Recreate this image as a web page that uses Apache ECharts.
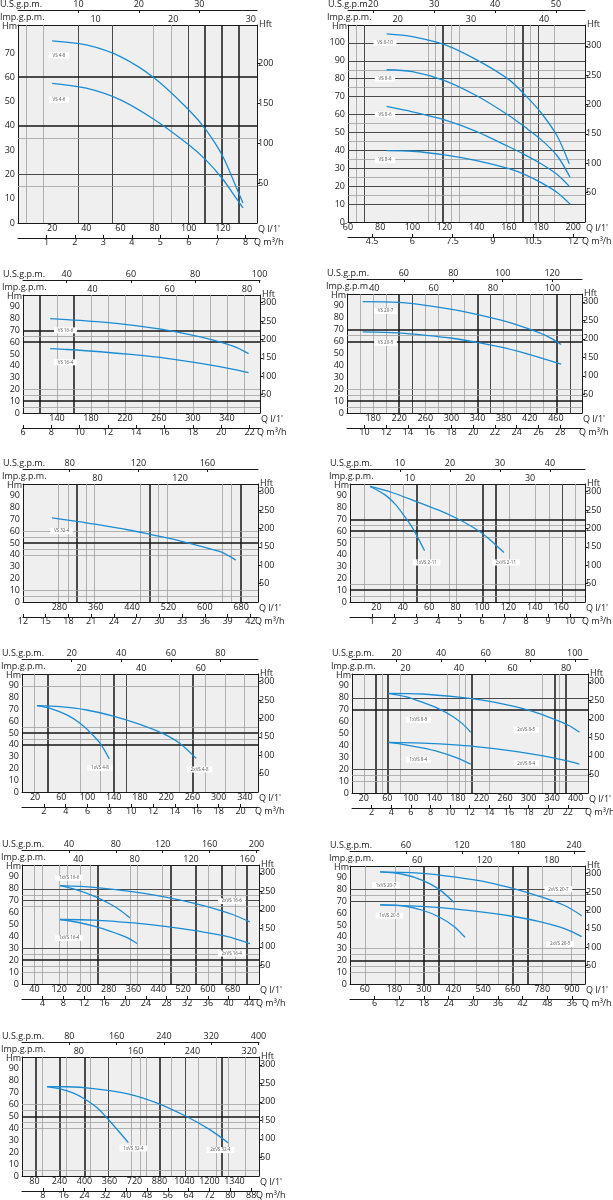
<!DOCTYPE html>
<html>
<head>
<meta charset="utf-8">
<script src="https://cdn.jsdelivr.net/npm/echarts@6/dist/echarts.min.js"></script>
<style>
  html, body { margin: 0; padding: 0; background: #fff; }
  #chart { width: 613px; height: 1200px; }
</style>
</head>
<body>
<div id="chart"></div>
<script>
// ---- shared tick labels ----
const hmTicks90 = [0, 10, 20, 30, 40, 50, 60, 70, 80, 90];
const hftTicks = [50, 100, 150, 200, 250, 300];

// ---- panel 1 : VS 4 ----
const p1QTicks = [20, 40, 60, 80, 100, 120];
const p1M3Ticks = [1, 2, 3, 4, 5, 6, 7, 8];
const p1UsTicks = [10, 20, 30];
const p1ImpTicks = [10, 20, 30];
const p1HmTicks = [0, 10, 20, 30, 40, 50, 60, 70];
const p1HftTicks = [50, 100, 150, 200];
const p1VS48 = [[20, 75], [40, 73.3], [60, 68.5], [80, 59.6], [100, 46.6], [110, 38.4], [120, 27.4], [128, 14.4], [131.8, 8.2]];
const p1VS46 = [[20, 57.5], [40, 55.5], [60, 50.7], [80, 42.5], [100, 32.2], [110, 26], [120, 18], [128, 10], [131.8, 6.2]];
const p1VThin = [5, 15, 79.5, 89.6];
const p1VMid = [35, 55, 99.6];
const p1VThick = [109.2, 119.5, 129.3];
const p1HThin = [15, 35];
const p1HMid = [20];
const p1HThick = [40, 60];
const p1Notes = [['VS 4-8', 24, 69], ['VS 4-6', 24, 50.7]];

// ---- panel 2 : VS 8 ----
const p2QTicks = [60, 80, 100, 120, 140, 160, 180, 200];
const p2M3Ticks = [4.5, 6, 7.5, 9, 10.5, 12];
const p2UsTicks = [20, 30, 40, 50];
const p2ImpTicks = [20, 30, 40];
const p2HmTicks = [0, 10, 20, 30, 40, 50, 60, 70, 80, 90, 100];
const p2VS810 = [[84, 105], [100, 103.5], [120, 99], [140, 90.5], [160, 79.5], [170, 71], [180, 61], [190, 48], [197.5, 32.5]];
const p2VS88 = [[84, 85], [100, 84], [120, 79], [140, 70.5], [160, 59.5], [170, 53], [180, 46], [190, 37], [198, 25]];
const p2VS86 = [[84, 64.5], [100, 61.5], [120, 57], [140, 50.5], [160, 42], [170, 37.5], [180, 32.5], [190, 26.5], [198, 19.5]];
const p2VS84 = [[84, 39.8], [100, 39.5], [120, 37.5], [140, 34.3], [160, 29.8], [170, 26.5], [180, 22], [190, 16.5], [198, 10]];
const p2VThin = [65, 110, 114, 124, 129, 158.5, 163.5, 173.5, 188];
const p2VMid = [70, 178.5];
const p2VThick = [119, 168.3];
const p2HThin = [15, 25, 35, 45, 55, 75, 85];
const p2HMid = [10, 20, 30, 40, 50, 60, 70, 80, 90, 100];
const p2HThick = [];
const p2Notes = [['VS 8-10', 83, 100], ['VS 8-8', 83, 80], ['VS 8-6', 83, 60], ['VS 8-4', 83, 34.5]];

// ---- panel 3 : VS 16 ----
const p3QTicks = [140, 180, 220, 260, 300, 340];
const p3M3Ticks = [6, 8, 10, 12, 14, 16, 18, 20, 22];
const p3UsTicks = [40, 60, 80, 100];
const p3ImpTicks = [40, 60, 80];
const p3VS166 = [[132, 80], [191, 77.2], [230, 74.3], [269, 70.3], [309, 64.5], [348, 56.5], [365.5, 50.3]];
const p3VS164 = [[132, 54.5], [152, 53.8], [191, 51.9], [230, 49.4], [269, 46.3], [309, 42], [348, 37], [365.5, 34.2]];
const p3VThin = [140, 180, 200, 220, 240, 260, 280, 300, 320, 340, 360];
const p3VMid = [];
const p3VThick = [120, 160];
const p3HThin = [5, 15, 20, 65];
const p3HMid = [];
const p3HThick = [10, 60, 70];
const p3Notes = [['VS 16-6', 150, 70], ['VS 16-4', 150, 43]];

// ---- panel 4 : VS 20 ----
const p4QTicks = [180, 220, 260, 300, 340, 380, 420, 460];
const p4M3Ticks = [10, 12, 14, 16, 18, 20, 22, 24, 26, 28];
const p4UsTicks = [60, 80, 100, 120];
const p4ImpTicks = [40, 60, 80, 100];
const p4VS207 = [[164, 93.6], [219, 93], [250, 91.3], [301, 87], [342, 82.5], [383, 77], [414, 71.5], [445, 65], [468, 57.5]];
const p4VS205 = [[164, 68.2], [219, 67.4], [250, 65.8], [301, 62.8], [341, 59.2], [383, 54.5], [424, 48.5], [468, 41.1]];
const p4VThin = [160, 180, 200, 260, 280, 300, 320, 380, 400, 420, 440];
const p4VMid = [240, 360, 482];
const p4VThick = [220, 340, 461];
const p4HThin = [5, 15, 20, 65];
const p4HMid = [];
const p4HThick = [10, 60, 70];
const p4Notes = [['VS 20-7', 199, 85.7], ['VS 20-5', 199, 59]];

// ---- panel 5 : VS 32 ----
const p5QTicks = [280, 360, 440, 520, 600, 680];
const p5M3Ticks = [12, 15, 18, 21, 24, 27, 30, 33, 36, 39, 42];
const p5UsTicks = [80, 120, 160];
const p5ImpTicks = [80, 120];
const p5VS324 = [[263.6, 71.3], [318.5, 68.3], [362, 65.7], [435.5, 60.8], [479, 57.4], [517, 54.3], [545, 51.8], [598, 46.5], [637, 42.2], [668, 35.5]];
const p5VThin = [278, 298.5, 339, 357, 457, 497.5, 517.5, 638, 658.5];
const p5VMid = [];
const p5VThick = [318.5, 478, 678];
const p5HThin = [5, 10, 40, 45, 55, 60];
const p5HMid = [];
const p5HThick = [50];
const p5Notes = [['VS 32-4', 285, 60]];

// ---- panel 6 : 1x / 2x VS 2-11 ----
const p6QTicks = [20, 40, 60, 80, 100, 120, 140, 160];
const p6M3Ticks = [1, 2, 3, 4, 5, 6, 7, 8, 9, 10];
const p6UsTicks = [10, 20, 30, 40];
const p6ImpTicks = [10, 20, 30];
const p6VS211x1 = [[15.2, 97.9], [26.6, 90.8], [34.2, 82.9], [40.5, 73.9], [46.4, 64.5], [50.7, 56], [56.5, 43.4]];
const p6VS211x2 = [[15.2, 97.9], [31.7, 92.8], [49.4, 85.5], [67.2, 77.8], [80.3, 71.2], [92.5, 63.8], [100.6, 57.8], [107.7, 51], [116.6, 41.9]];
const p6VThin = [11, 30.5, 40.5, 61, 75, 80.5, 121, 140.5, 151, 170.5];
const p6VMid = [161];
const p6VThick = [50.7, 100.6, 110.2];
const p6HThin = [5, 15, 55, 65];
const p6HMid = [];
const p6HThick = [10, 60, 70];
const p6Notes = [['1xVS 2-11', 58, 33.5], ['2xVS 2-11', 118, 33.5]];

// ---- panel 7 : 1x / 2x VS 4-8 ----
const p7QTicks = [20, 60, 100, 140, 180, 220, 260, 300, 340];
const p7M3Ticks = [2, 4, 6, 8, 10, 12, 14, 16, 18, 20];
const p7UsTicks = [20, 40, 60, 80];
const p7ImpTicks = [20, 40, 60];
const p7VS48x1 = [[22.8, 73.2], [43, 70.9], [68.4, 65.3], [88.6, 58.3], [103.8, 50.7], [119, 41.4], [133.2, 28]];
const p7VS48x2 = [[22.8, 73.2], [58.2, 72.3], [98.7, 69.5], [139.2, 64.3], [179.7, 57.3], [215.2, 49.5], [240.5, 41.4], [265.8, 28.5]];
const p7VThin = [19, 88.5, 119, 239.5, 279.5, 310, 339];
const p7VMid = [158.5];
const p7VThick = [39.5, 139.5, 260];
const p7HThin = [45, 55, 90];
const p7HMid = [];
const p7HThick = [40, 50];
const p7Notes = [['1xVS 4-8', 119, 20.4], ['2xVS 4-8', 271, 19]];

// ---- panel 8 : 1x / 2x VS 8-5, VS 8-4 ----
const p8QTicks = [20, 60, 100, 140, 180, 220, 260, 300, 340, 380];
const p8M3Ticks = [2, 4, 6, 8, 10, 12, 14, 16, 18, 20, 22];
const p8UsTicks = [20, 40, 60, 80, 100];
const p8ImpTicks = [20, 40, 60, 80];
const p8VS85x1 = [[61.4, 83.8], [90.9, 81], [119.3, 76.3], [147.7, 70.7], [170.5, 64.5], [187.5, 58.3], [201.7, 51.1]];
const p8VS85x2 = [[61.4, 83.8], [119.3, 83.2], [181.8, 80.5], [221.6, 78], [261.4, 74.2], [306.8, 68.6], [342, 62.3], [369.3, 56.5], [386.4, 51.1]];
const p8VS84x1 = [[61.4, 42.5], [90.9, 40.5], [119.3, 37.9], [147.7, 34.6], [176, 30], [201.7, 24.3]];
const p8VS84x2 = [[61.4, 42.5], [119.3, 41.9], [181.8, 40.2], [221.6, 38.4], [261.4, 36], [306.8, 32.6], [342, 29.5], [369.3, 26.6], [386.4, 24.3]];
const p8VThin = [21.5, 52, 82.5, 162, 182, 193, 234, 324, 352];
const p8VMid = [];
const p8VThick = [41, 61.4, 203, 344, 363.6];
const p8HThin = [10, 15];
const p8HMid = [20, 80];
const p8HThick = [70];
const p8Notes = [['1xVS 8-5', 113, 61.5], ['2xVS 8-5', 296, 53], ['1xVS 8-4', 113, 28], ['2xVS 8-4', 296, 25]];

// ---- panel 9 : 1x / 2x VS 16-6, VS 16-4 ----
const p9QTicks = [40, 120, 200, 280, 360, 440, 520, 600, 680];
const p9M3Ticks = [4, 8, 12, 16, 20, 24, 28, 32, 36, 40, 44];
const p9UsTicks = [40, 80, 120, 160, 200];
const p9ImpTicks = [40, 80, 120, 160];
const p9VS166x1 = [[123, 82.6], [178.8, 78.9], [232.3, 73.9], [285.9, 67], [318, 61.8], [348, 55.6]];
const p9VS166x2 = [[123, 82.6], [232.3, 81.2], [360.8, 77.5], [467.9, 72.8], [553.5, 68], [628.5, 62.8], [682, 58.2], [735.5, 52.2]];
const p9VS164x1 = [[123, 54.2], [178.8, 51.9], [232.3, 48.6], [285.9, 44.3], [339.4, 39], [371.5, 34]];
const p9VS164x2 = [[123, 54.2], [232.3, 53.7], [360.8, 51.3], [467.9, 48.3], [575, 44.2], [661, 40], [735.5, 34]];
const p9VThin = [39.6, 64, 120, 144.5, 189.5, 219.5, 350, 371.5, 451.8, 601.7, 687];
const p9VMid = [];
const p9VThick = [243, 480.7, 561, 644.5, 727];
const p9HThin = [10, 15, 25, 65, 75];
const p9HMid = [30, 70, 80];
const p9HThick = [20];
const p9Notes = [['1xVS 16-6', 152, 89.3], ['2xVS 16-6', 677, 69.7], ['1xVS 16-4', 152, 38.8], ['2xVS 16-4', 677, 25.6]];

// ---- panel 10 : 1x / 2x VS 20-7, VS 20-5 ----
const p10QTicks = [60, 180, 300, 420, 540, 660, 780, 900];
const p10M3Ticks = [6, 12, 18, 24, 30, 36, 42, 48, 54];
const p10UsTicks = [60, 120, 180, 240];
const p10ImpTicks = [60, 120, 180];
const p10VS207x1 = [[122.3, 95], [213.7, 93], [294.4, 87.8], [361.6, 80.2], [422, 69.1]];
const p10VS207x2 = [[122.3, 95], [294.4, 93.8], [428.8, 90.5], [563, 86], [664, 80.8], [764.8, 74.5], [872.3, 66.3], [939.5, 57.9]];
const p10VS205x1 = [[122.3, 67.1], [213.7, 66.3], [294.4, 62.5], [361.6, 56.8], [422, 48.8], [466.4, 39.6]];
const p10VS205x2 = [[122.3, 67.1], [294.4, 65.7], [428.8, 63.4], [563, 60.3], [664, 57.2], [764.8, 53], [872.3, 46.8], [939.5, 40.2]];
const p10VThin = [63, 184, 240.5, 422, 512, 601, 781, 899];
const p10VMid = [];
const p10VThick = [301, 361.6, 660, 722];
const p10HThin = [10, 15, 25, 30, 75];
const p10HMid = [70, 80];
const p10HThick = [20];
const p10Notes = [['1xVS 20-7', 146, 83.7], ['2xVS 20-7', 845, 80.3], ['1xVS 20-5', 160, 57.9], ['2xVS 20-5', 852, 34]];

// ---- panel 11 : 1x / 2x VS 32-4 ----
const p11QTicks = [80, 240, 400, 560, 720, 880, 1040, 1200, 1360];
const p11M3Ticks = [8, 16, 24, 32, 40, 48, 56, 64, 72, 80, 88];
const p11UsTicks = [80, 160, 240, 320, 400];
const p11ImpTicks = [80, 160, 240, 320];
const p11VS324x1 = [[159.6, 75.1], [244.7, 73.2], [329.8, 69.6], [404.3, 64.5], [478.7, 57.5], [542.6, 49], [606.4, 39.5], [680.9, 28]];
const p11VS324x2 = [[159.6, 75.1], [287, 75], [457.4, 73.5], [670, 69.3], [861.7, 61.5], [1053, 50], [1202, 39], [1319, 28]];
const p11VThin = [128, 283, 440, 700, 755, 798, 958, 1130, 1243, 1319, 1432];
const p11VMid = [553, 1043];
const p11VThick = [85, 240, 400, 879, 1277];
const p11HThin = [5, 40, 45, 55, 60];
const p11HMid = [];
const p11HThick = [50];
const p11Notes = [['1xVS 32-4', 713, 23.2], ['2xVS 32-4', 1270, 21.8]];

// unit factors
const M3 = 16.667, IMP = 4.546, US = 3.785;

// box = plot area [left, top, right, bottom] in page pixels
const panels = [
  { box: [18, 25, 257, 223], q: [0, 140], hm: 81.5, ft: 3.05, us: 3.54,
    qT: p1QTicks, m3T: p1M3Ticks, usT: p1UsTicks, impT: p1ImpTicks, hmT: p1HmTicks, hftT: p1HftTicks,
    curves: [p1VS48, p1VS46], v: [p1VThin, p1VMid, p1VThick], h: [p1HThin, p1HMid, p1HThick], notes: p1Notes },
  { box: [348, 25, 585, 222], q: [60, 207.3], hm: 110, ft: 3.05, us: US,
    qT: p2QTicks, m3T: p2M3Ticks, usT: p2UsTicks, impT: p2ImpTicks, hmT: p2HmTicks, hftT: hftTicks,
    curves: [p2VS810, p2VS88, p2VS86, p2VS84], v: [p2VThin, p2VMid, p2VThick], h: [p2HThin, p2HMid, p2HThick], notes: p2Notes },
  { box: [23, 295, 260, 413], q: [100, 379], hm: 100, ft: 3.21, us: US,
    qT: p3QTicks, m3T: p3M3Ticks, usT: p3UsTicks, impT: p3ImpTicks, hmT: hmTicks90, hftT: hftTicks,
    curves: [p3VS166, p3VS164], v: [p3VThin, p3VMid, p3VThick], h: [p3HThin, p3HMid, p3HThick], notes: p3Notes },
  { box: [347, 294, 582, 413], q: [140, 500], hm: 100, ft: 3.21, us: US,
    qT: p4QTicks, m3T: p4M3Ticks, usT: p4UsTicks, impT: p4ImpTicks, hmT: hmTicks90, hftT: hftTicks,
    curves: [p4VS207, p4VS205], v: [p4VThin, p4VMid, p4VThick], h: [p4HThin, p4HMid, p4HThick], notes: p4Notes },
  { box: [23, 484, 258, 602], q: [200, 717], hm: 100, ft: 3.21, us: US,
    qT: p5QTicks, m3T: p5M3Ticks, usT: p5UsTicks, impT: p5ImpTicks, hmT: hmTicks90, hftT: hftTicks,
    curves: [p5VS324], v: [p5VThin, p5VMid, p5VThick], h: [p5HThin, p5HMid, p5HThick], notes: p5Notes },
  { box: [350, 484, 585, 602], q: [0, 178], hm: 100, ft: 3.21, us: US,
    qT: p6QTicks, m3T: p6M3Ticks, usT: p6UsTicks, impT: p6ImpTicks, hmT: hmTicks90, hftT: hftTicks,
    curves: [p6VS211x1, p6VS211x2], v: [p6VThin, p6VMid, p6VThick], h: [p6HThin, p6HMid, p6HThick], notes: p6Notes },
  { box: [22, 674, 258, 792], q: [0, 360], hm: 100, ft: 3.21, us: US,
    qT: p7QTicks, m3T: p7M3Ticks, usT: p7UsTicks, impT: p7ImpTicks, hmT: hmTicks90, hftT: hftTicks,
    curves: [p7VS48x1, p7VS48x2], v: [p7VThin, p7VMid, p7VThick], h: [p7HThin, p7HMid, p7HThick], notes: p7Notes },
  { box: [352, 674, 588, 793], q: [0, 401], hm: 100, ft: 3.21, us: US, qText: { 380: '400' },
    qT: p8QTicks, m3T: p8M3Ticks, usT: p8UsTicks, impT: p8ImpTicks, hmT: hmTicks90, hftT: hftTicks,
    curves: [p8VS85x1, p8VS85x2, p8VS84x1, p8VS84x2], v: [p8VThin, p8VMid, p8VThick], h: [p8HThin, p8HMid, p8HThick], notes: p8Notes },
  { box: [22, 865, 259, 984], q: [0, 765], hm: 100, ft: 3.21, us: US,
    qT: p9QTicks, m3T: p9M3Ticks, usT: p9UsTicks, impT: p9ImpTicks, hmT: hmTicks90, hftT: hftTicks,
    curves: [p9VS166x1, p9VS166x2, p9VS164x1, p9VS164x2], v: [p9VThin, p9VMid, p9VThick], h: [p9HThin, p9HMid, p9HThick], notes: p9Notes },
  { box: [350, 866, 585, 984], q: [0, 953], hm: 100, ft: 3.21, us: US, m3Text: { 54: '36' },
    qT: p10QTicks, m3T: p10M3Ticks, usT: p10UsTicks, impT: p10ImpTicks, hmT: hmTicks90, hftT: hftTicks,
    curves: [p10VS207x1, p10VS207x2, p10VS205x1, p10VS205x2], v: [p10VThin, p10VMid, p10VThick], h: [p10HThin, p10HMid, p10HThick], notes: p10Notes },
  { box: [22, 1057, 259, 1176], q: [0, 1517], hm: 100, ft: 3.21, us: US, qText: { 560: '360', 1360: '1340' },
    qT: p11QTicks, m3T: p11M3Ticks, usT: p11UsTicks, impT: p11ImpTicks, hmT: hmTicks90, hftT: hftTicks,
    curves: [p11VS324x1, p11VS324x2], v: [p11VThin, p11VMid, p11VThick], h: [p11HThin, p11HMid, p11HThick], notes: p11Notes }
];

const FONT = '"Open Sans", "Noto Sans", sans-serif';
const INK = '#1a1a1a';
const txt = { color: INK, fontSize: 9, fontFamily: FONT };
const tones = [
  { type: 'solid', color: '#a0a0a0', width: 0.8 },
  { type: 'solid', color: '#4a4a4a', width: 1 },
  { type: 'solid', color: '#151515', width: 1.5 }
];

function fmt(map) {
  return function (v) {
    return (map && map[v] !== undefined) ? map[v] : String(v);
  };
}

const grid = [], xAxis = [], yAxis = [], series = [], graphic = [];

panels.forEach(function (p, i) {
  const L = p.box[0], T = p.box[1], R = p.box[2], B = p.box[3];
  grid.push({ left: L, top: T, width: R - L, height: B - T, show: true, backgroundColor: '#efefef', borderWidth: 0 });

  function axis(pos, offset, min, max, ticks, textMap, tick, margin) {
    return {
      type: 'value', gridIndex: i, position: pos, offset: offset, min: min, max: max,
      axisLine: { show: true, onZero: false, lineStyle: { color: INK, width: 1 } },
      axisTick: tick ? { show: true, inside: tick === 'in', length: 3, customValues: ticks, lineStyle: { color: INK } } : { show: false },
      splitLine: { show: false },
      axisLabel: Object.assign({ customValues: ticks, formatter: fmt(textMap), margin: margin }, txt)
    };
  }

  // x: l/min, m3/h, Imp gpm, US gpm
  xAxis.push(axis('bottom', 0, p.q[0], p.q[1], p.qT, p.qText, null, 1));
  xAxis.push(axis('bottom', 15, p.q[0] / M3, p.q[1] / M3, p.m3T, p.m3Text, 'in', 0));
  xAxis.push(axis('top', 0, p.q[0] / IMP, p.q[1] / IMP, p.impT, null, null, 1));
  xAxis.push(axis('top', 15, p.q[0] / p.us, p.q[1] / p.us, p.usT, null, 'in', 1));
  // y: Hm, Hft
  yAxis.push(axis('left', 0, 0, p.hm, p.hmT, null, null, 3));
  yAxis.push(axis('right', 0, 0, p.hm * p.ft, p.hftT, null, 'out', 1));

  const xi = i * 4, yi = i * 2;

  // grid lines
  const lines = [];
  p.v.forEach(function (arr, k) { arr.forEach(function (v) { lines.push({ xAxis: v, lineStyle: tones[k] }); }); });
  p.h.forEach(function (arr, k) { arr.forEach(function (v) { lines.push({ yAxis: v, lineStyle: tones[k] }); }); });
  series.push({
    type: 'line', xAxisIndex: xi, yAxisIndex: yi, data: p.curves[0], showSymbol: false,
    lineStyle: { opacity: 0 }, silent: true, animation: false, z: 1,
    markLine: { silent: true, symbol: ['none', 'none'], label: { show: false }, animation: false,
      lineStyle: { type: 'solid' }, emphasis: { disabled: true }, data: lines }
  });

  // curve tags
  series.push({
    type: 'line', xAxisIndex: xi, yAxisIndex: yi, data: p.curves[0], showSymbol: false,
    lineStyle: { opacity: 0 }, silent: true, animation: false, z: 3,
    markPoint: {
      silent: true, animation: false, symbol: 'rect', itemStyle: { color: '#ffffff' },
      label: { show: true, position: 'inside', formatter: function (d) { return d.value; }, fontSize: 4.5, color: '#555', fontFamily: FONT },
      data: p.notes.map(function (n) { return { coord: [n[1], n[2]], value: n[0], symbolSize: [n[0].length * 2.4 + 6, 6] }; })
    }
  });

  // pump curves
  p.curves.forEach(function (c) {
    series.push({
      type: 'line', xAxisIndex: xi, yAxisIndex: yi, data: c, smooth: 0.3, showSymbol: false,
      lineStyle: { color: '#1b8cd4', width: 1.3 }, silent: true, animation: false, z: 5
    });
  });

  // axis names
  function name(text, x, y, align) {
    graphic.push({ type: 'text', x: x, y: y, silent: true,
      style: { text: text, fill: INK, font: '9px ' + FONT, align: align, verticalAlign: 'middle' } });
  }
  name('U.S.g.p.m.', Math.max(0, L - 20), T - 21, 'left');
  name('Imp.g.p.m.', Math.max(0, L - 21), T - 8, 'left');
  name('Hm', L - 1, T + 1, 'right');
  name('Hft', R + 2, T - 1, 'left');
  name("Q l/1'", R + 1, B + 6, 'left');
  name('Q m\u00b3/h', R - 3, B + 19, 'left');
});

const chart = echarts.init(document.getElementById('chart'), null, { renderer: 'canvas' });
chart.setOption({
  animation: false,
  backgroundColor: '#ffffff',
  grid: grid,
  xAxis: xAxis,
  yAxis: yAxis,
  series: series,
  graphic: graphic
});
</script>
</body>
</html>
